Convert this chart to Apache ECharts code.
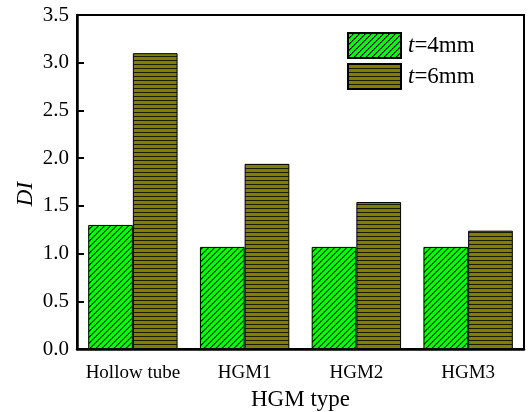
<!DOCTYPE html>
<html>
<head>
<meta charset="utf-8">
<script src="https://cdn.jsdelivr.net/npm/echarts@6/dist/echarts.min.js"></script>
<style>
  html, body { margin: 0; padding: 0; background: #fff; }
  #chart { width: 528px; height: 412px; }
</style>
</head>
<body>
<div id="chart"></div>
<script>
const categories = ['Hollow tube', 'HGM1', 'HGM2', 'HGM3']
const di4mm = [1.30, 1.07, 1.07, 1.07]
const di6mm = [3.10, 1.94, 1.54, 1.24]
const yTicks = ['0.0', '0.5', '1.0', '1.5', '2.0', '2.5', '3.0', '3.5']

const FONT = '"Liberation Serif", "DejaVu Serif", serif'

// diagonal hatch on bright green, drawn pixel by pixel
function hatchGreen() {
  const n = 6
  const c = document.createElement('canvas')
  c.width = n; c.height = n
  const ctx = c.getContext('2d')
  ctx.fillStyle = '#00ff00'
  ctx.fillRect(0, 0, n, n)
  for (let i = 0; i < n; i++) {
    ctx.fillStyle = '#000'
    ctx.fillRect(i, n - 1 - i, 1, 1)
    ctx.fillStyle = 'rgba(0,0,0,0.45)'
    ctx.fillRect((i + 1) % n, n - 1 - i, 1, 1)
  }
  return c
}

// horizontal lines on olive
function stripeOlive() {
  const c = document.createElement('canvas')
  c.width = 4; c.height = 4
  const ctx = c.getContext('2d')
  ctx.fillStyle = '#808000'
  ctx.fillRect(0, 0, 4, 4)
  ctx.fillStyle = '#1a1a00'
  ctx.fillRect(0, 0, 4, 1)
  return c
}

const chart = echarts.init(document.getElementById('chart'))

chart.setOption({
  backgroundColor: '#fff',
  animation: false,
  grid: {
    left: 77,
    right: 4,
    top: 15,
    bottom: 63,
    outerBoundsMode: 'none',
    containLabel: false,
    show: true,
    borderColor: '#000',
    borderWidth: 2,
    backgroundColor: 'transparent'
  },
  legend: {
    orient: 'vertical',
    left: 342,
    top: 27,
    icon: 'rect',
    itemWidth: 53,
    itemHeight: 25,
    itemGap: 4,
    formatter: (name) => '{i|t}' + name.slice(1),
    textStyle: {
      fontFamily: FONT,
      fontSize: 23,
      color: '#000',
      padding: [0, 0, 0, 2],
      rich: {
        i: { fontFamily: FONT, fontSize: 23, fontStyle: 'italic', color: '#000' }
      }
    }
  },
  xAxis: {
    type: 'category',
    data: categories,
    name: 'HGM type',
    nameLocation: 'middle',
    nameGap: 39,
    nameMoveOverlap: false,
    nameTextStyle: { fontFamily: FONT, fontSize: 23, color: '#000' },
    axisLine: { lineStyle: { color: '#000', width: 2.5 } },
    axisTick: { alignWithLabel: true, length: 7, lineStyle: { color: '#000', width: 2 } },
    axisLabel: { interval: 0, fontFamily: FONT, fontSize: 19, color: '#000', margin: 15 }
  },
  yAxis: {
    type: 'value',
    min: 0,
    max: 3.5,
    interval: 0.5,
    name: 'DI',
    nameLocation: 'middle',
    nameGap: 40,
    nameMoveOverlap: false,
    nameTextStyle: {
      fontFamily: FONT,
      fontSize: 23,
      fontStyle: 'italic',
      color: '#000',
      padding: [0, 24, 0, 0]
    },
    axisLine: { show: true, lineStyle: { color: '#000', width: 2.5 } },
    axisTick: { show: true, inside: true, length: 7, lineStyle: { color: '#000', width: 2 } },
    axisLabel: {
      fontFamily: FONT,
      fontSize: 21,
      color: '#000',
      margin: 8,
      formatter: (v) => yTicks[Math.round(v / 0.5)]
    },
    splitLine: { show: false }
  },
  series: [
    {
      name: 't=4mm',
      type: 'bar',
      data: di4mm,
      barGap: '0%',
      barCategoryGap: '20%',
      itemStyle: {
        color: { image: hatchGreen(), repeat: 'repeat' },
        borderColor: '#000',
        borderWidth: 1
      }
    },
    {
      name: 't=6mm',
      type: 'bar',
      data: di6mm,
      barGap: '0%',
      barCategoryGap: '20%',
      itemStyle: {
        color: { image: stripeOlive(), repeat: 'repeat' },
        borderColor: '#000',
        borderWidth: 1
      }
    }
  ]
})
</script>
</body>
</html>
